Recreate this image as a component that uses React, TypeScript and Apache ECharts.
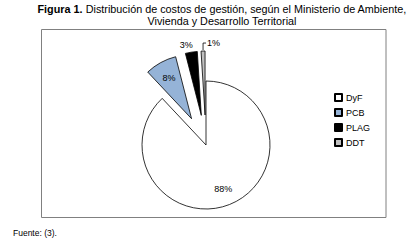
import React, { useEffect, useRef } from "react";
import * as echarts from "echarts";

const categories = ["DyF", "PCB", "PLAG", "DDT"];
const values = [88, 8, 3, 1];
const colors = ["#FFFFFF", "#95B3D7", "#000000", "#C0C0C0"];
const exploded = [false, true, true, true];

const FONT = "'Liberation Sans', Arial, sans-serif";

export default function App() {
  const ref = useRef<HTMLDivElement>(null);
  useEffect(() => {
    if (!ref.current) return;
    const chart = echarts.init(ref.current, null, { renderer: "svg" });
    const cx = 206;
    const cy = 145;
    const R = 64;
    const OFF = 30;
    const total = values.reduce((a, b) => a + b, 0);
    const sliceDir = (i: number) => {
      const before = values.slice(0, i).reduce((a, b) => a + b, 0);
      const mid = ((before + values[i] / 2) / total) * Math.PI * 2; // clockwise from top
      return [Math.sin(mid), -Math.cos(mid)];
    };
    const [ddx, ddy] = sliceDir(3);
    const ox = cx + ddx * (OFF + R);
    const oy = cy + ddy * (OFF + R);
    const pct = Math.round((values[3] / total) * 100);

    const mainData = categories.map((name, i) => ({
      name,
      value: values[i],
      selected: exploded[i],
      itemStyle: { color: colors[i] },
      label: { show: i === 2 },
      labelLine: { show: false },
    }));
    const ringData = categories.map((name, i) => ({
      name,
      value: values[i],
      selected: exploded[i],
      label: { show: i < 2 },
    }));
    chart.setOption({
      animation: false,
      backgroundColor: "#fff",
      textStyle: { fontFamily: FONT },
      graphic: [
        {
          type: "rect",
          shape: { x: 41.5, y: 29.5, width: 344.5, height: 188 },
          style: { fill: "#fff", stroke: "#808080", lineWidth: 1 },
          z: -10,
        },
        {
          type: "text",
          x: 222,
          y: 3,
          style: {
            text: "{b|Figura 1.} Distribución de costos de gestión, según el Ministerio de Ambiente,\nVivienda y Desarrollo Territorial",
            align: "center",
            fontFamily: FONT,
            fontSize: 10.8,
            lineHeight: 12,
            fill: "#000",
            rich: {
              b: { fontWeight: "bold", fontSize: 10.8, fontFamily: FONT },
            },
          },
        },
        {
          type: "text",
          x: 13,
          y: 228,
          style: { text: "Fuente: (3).", fontFamily: FONT, fontSize: 8.5, fill: "#000" },
        },
        {
          type: "polyline",
          shape: {
            points: [
              [ox, oy - 1],
              [ox, oy - 8],
              [ox + 3, oy - 8],
            ],
          },
          style: { stroke: "#000", lineWidth: 0.8, fill: null },
          z: 20,
        },
        {
          type: "text",
          x: ox + 4,
          y: oy - 8,
          style: {
            text: pct + "%",
            fontFamily: FONT,
            fontSize: 9,
            fill: "#000",
            align: "left",
            verticalAlign: "middle",
          },
          z: 20,
        },
      ],
      legend: {
        orient: "vertical",
        left: 329,
        top: 88,
        icon: "rect",
        itemWidth: 7,
        itemHeight: 7,
        itemGap: 6,
        data: categories,
        textStyle: { fontFamily: FONT, fontSize: 9, color: "#000", padding: [0, 0, 0, -1] },
      },
      series: [
        {
          type: "pie",
          center: [cx, cy],
          radius: [0, R],
          startAngle: 90,
          clockwise: true,
          selectedMode: "multiple",
          selectedOffset: OFF,
          avoidLabelOverlap: false,
          silent: true,
          itemStyle: { borderColor: "#000", borderWidth: 0.8 },
          select: { itemStyle: { borderColor: "#000", borderWidth: 0.8 } },
          label: {
            position: "outside",
            formatter: "{d}%",
            fontFamily: FONT,
            fontSize: 9,
            color: "#000",
            distanceToLabelLine: 1,
          },
          labelLine: { length: 4, length2: 3 },
          labelLayout: (p: any) => (p.dataIndex === 2 ? { dx: 6, dy: -3 } : {}),
          data: mainData,
        },
        {
          type: "pie",
          center: [cx, cy],
          radius: [40, 48],
          startAngle: 90,
          clockwise: true,
          selectedMode: "multiple",
          selectedOffset: OFF,
          silent: true,
          z: 5,
          itemStyle: { color: "rgba(0,0,0,0)", borderWidth: 0 },
          select: { itemStyle: { color: "rgba(0,0,0,0)", borderWidth: 0 } },
          label: {
            position: "inside",
            formatter: "{d}%",
            fontFamily: FONT,
            fontSize: 9,
            color: "#000",
          },
          labelLine: { show: false },
          data: ringData,
        },
      ],
    });
    return () => chart.dispose();
  }, []);
  return (
    <div
      ref={ref}
      style={{ position: "fixed", left: 0, top: 0, width: 414, height: 244 }}
    />
  );
}
